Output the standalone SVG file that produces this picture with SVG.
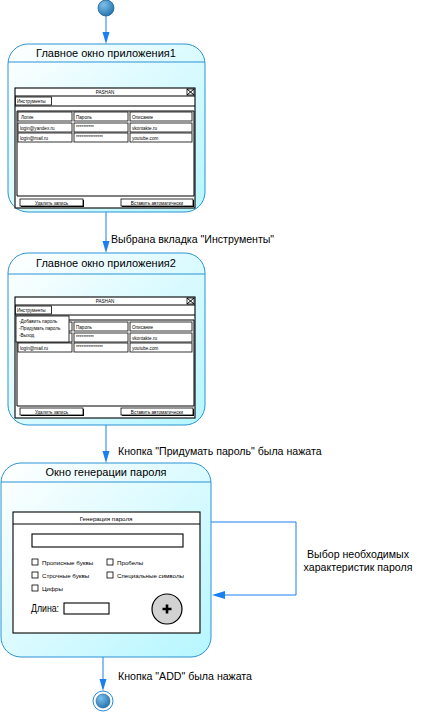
<svg xmlns="http://www.w3.org/2000/svg" width="421" height="714" viewBox="0 0 421 714">
<style>
.st{stroke:#2a93d5;stroke-width:1;fill:url(#sg)}
.hl{stroke:#2a93d5;stroke-width:1}
.ttl{font-family:"Liberation Sans",Arial,sans-serif;font-size:11px;fill:#000;text-anchor:middle}
.lbl{font-family:"Liberation Sans",Arial,sans-serif;font-size:10.6px;fill:#000}
.tiny{font-family:"Liberation Sans",Arial,sans-serif;font-size:4.6px;fill:#000}
.tm{text-anchor:middle}
.sm{font-family:"Liberation Sans",Arial,sans-serif;font-size:6.2px;fill:#000}
.w{fill:#fff;stroke:#000;stroke-width:1.1}
.c{fill:#fff;stroke:#000;stroke-width:0.8}
.ln{stroke:#000;stroke-width:1}
.cn{stroke:#1a7ff0;stroke-width:1;fill:none}
.ah{fill:#1a7ff0}
.btn{fill:#fff;stroke:#000;stroke-width:0.8}
.bsh{fill:#000}
</style>
<defs>
<linearGradient id="sg" x1="0" y1="0" x2="1" y2="1">
<stop offset="0" stop-color="#ffffff"/>
<stop offset="1" stop-color="#b6f6ff"/>
</linearGradient>
<radialGradient id="bg" cx="0.35" cy="0.3" r="0.8">
<stop offset="0" stop-color="#7cc0ea"/>
<stop offset="1" stop-color="#1f6faa"/>
</radialGradient>
</defs>

<g id="connectors">
<line class="cn" x1="106" y1="15" x2="106" y2="36"/>
<polygon class="ah" points="102.5,32 109.5,32 106,44"/>
<line class="cn" x1="106" y1="212" x2="106" y2="245"/>
<polygon class="ah" points="102.5,241 109.5,241 106,253"/>
<text class="lbl" x="111" y="243">Выбрана вкладка "Инструменты"</text>
<line class="cn" x1="106" y1="425" x2="106" y2="455"/>
<polygon class="ah" points="102.5,451 109.5,451 106,463"/>
<text class="lbl" x="118" y="455">Кнопка "Придумать пароль" была нажата</text>
<path class="cn" d="M211 522 H296 V595 H222"/>
<polygon class="ah" points="225,591 225,599 212,595"/>
<text class="lbl" x="358" y="558" text-anchor="middle">Выбор необходимых</text>
<text class="lbl" x="358" y="571" text-anchor="middle">характеристик пароля</text>
<line class="cn" x1="103" y1="657" x2="103" y2="683"/>
<polygon class="ah" points="99.5,679 106.5,679 103,691"/>
<text class="lbl" x="118" y="680">Кнопка "ADD" была нажата</text>
</g>

<g id="start">
<circle cx="106" cy="8" r="8" fill="url(#bg)" stroke="#1d5f95" stroke-width="0.8"/>
</g>

<g id="state1">
<rect class="st" x="8" y="44" width="197" height="168" rx="20"/>
<line class="hl" x1="8" y1="62" x2="205" y2="62"/>
<text class="ttl" x="106" y="57">Главное окно приложения1</text>
<rect class="w" x="15" y="88" width="180" height="120"/>
<line class="ln" x1="15" y1="96" x2="195" y2="96"/>
<text class="tiny tm" x="105" y="94">PASHAN</text>
<rect class="c" x="187" y="89" width="7" height="6"/>
<path class="ln" d="M187 89 L194 95 M194 89 L187 95" stroke-width="0.7"/>
<line class="ln" x1="15" y1="106" x2="195" y2="106"/>
<rect class="c" x="15.5" y="97" width="36" height="8"/>
<text class="tiny" x="17" y="103">Инструменты</text>
<path class="ln" d="M17 111 V196 H194 V111 Z" fill="none"/>
<rect class="c" x="18" y="112" width="54" height="9"/>
<rect class="c" x="74" y="112" width="54" height="9"/>
<rect class="c" x="130" y="112" width="62" height="9"/>
<rect class="c" x="18" y="123" width="54" height="9"/>
<rect class="c" x="74" y="123" width="54" height="9"/>
<rect class="c" x="130" y="123" width="62" height="9"/>
<rect class="c" x="18" y="133" width="54" height="9"/>
<rect class="c" x="74" y="133" width="54" height="9"/>
<rect class="c" x="130" y="133" width="62" height="9"/>
<text class="tiny" x="21" y="118.5">Логин</text>
<text class="tiny" x="76" y="118.5">Пароль</text>
<text class="tiny" x="132" y="118.5">Описание</text>
<text class="tiny" x="20" y="129.5">login@yandex.ru</text>
<text class="tiny" x="76" y="129">**********</text>
<text class="tiny" x="132" y="129.5">vkontakte.ru</text>
<text class="tiny" x="20" y="139.5">login@mail.ru</text>
<text class="tiny" x="76" y="139">***************</text>
<text class="tiny" x="132" y="139.5">youtube.com</text>
<rect class="bsh" x="21" y="200" width="63" height="7"/>
<rect class="btn" x="20" y="199" width="63" height="7"/>
<text class="tiny tm" x="51.5" y="204.5">Удалить запись</text>
<rect class="bsh" x="122" y="200" width="72" height="7"/>
<rect class="btn" x="121" y="199" width="72" height="7"/>
<text class="tiny tm" x="157" y="204.5">Вставить автоматически</text>
</g>

<g id="state2">
<rect class="st" x="8" y="253" width="197" height="172" rx="20"/>
<line class="hl" x1="8" y1="274" x2="205" y2="274"/>
<text class="ttl" x="106" y="267">Главное окно приложения2</text>
<rect class="w" x="15" y="297" width="180" height="121"/>
<line class="ln" x1="15" y1="305" x2="195" y2="305"/>
<text class="tiny tm" x="105" y="303">PASHAN</text>
<rect class="c" x="187" y="298" width="7" height="6"/>
<path class="ln" d="M187 298 L194 304 M194 298 L187 304" stroke-width="0.7"/>
<line class="ln" x1="15" y1="315" x2="195" y2="315"/>
<rect class="c" x="15.5" y="306" width="36" height="8"/>
<text class="tiny" x="17" y="312">Инструменты</text>
<path class="ln" d="M17 320 V406 H194 V320 Z" fill="none"/>
<rect class="c" x="18" y="322" width="54" height="9"/>
<rect class="c" x="74" y="322" width="54" height="9"/>
<rect class="c" x="130" y="322" width="62" height="9"/>
<rect class="c" x="18" y="333" width="54" height="9"/>
<rect class="c" x="74" y="333" width="54" height="9"/>
<rect class="c" x="130" y="333" width="62" height="9"/>
<rect class="c" x="18" y="343" width="54" height="9"/>
<rect class="c" x="74" y="343" width="54" height="9"/>
<rect class="c" x="130" y="343" width="62" height="9"/>
<text class="tiny" x="76" y="328.5">Пароль</text>
<text class="tiny" x="132" y="328.5">Описание</text>
<text class="tiny" x="76" y="339">**********</text>
<text class="tiny" x="132" y="339.5">vkontakte.ru</text>
<text class="tiny" x="20" y="349.5">login@mail.ru</text>
<text class="tiny" x="76" y="349">***************</text>
<text class="tiny" x="132" y="349.5">youtube.com</text>
<rect class="c" x="16" y="316" width="53" height="26"/>
<text class="tiny" x="19" y="323">-Добавить пароль</text>
<text class="tiny" x="19" y="330">-Придумать пароль</text>
<text class="tiny" x="19" y="337">-Выход</text>
<rect class="bsh" x="21" y="409" width="63" height="7"/>
<rect class="btn" x="20" y="408" width="63" height="7"/>
<text class="tiny tm" x="51.5" y="413.5">Удалить запись</text>
<rect class="bsh" x="122" y="409" width="72" height="7"/>
<rect class="btn" x="121" y="408" width="72" height="7"/>
<text class="tiny tm" x="157" y="413.5">Вставить автоматически</text>
</g>

<g id="state3">
<rect class="st" x="1" y="463" width="210" height="194" rx="20"/>
<line class="hl" x1="1" y1="482" x2="211" y2="482"/>
<text class="ttl" x="106" y="476">Окно генерации пароля</text>
<rect class="w" x="13" y="512" width="187" height="121"/>
<line class="ln" x1="13" y1="524" x2="200" y2="524"/>
<text class="sm tm" x="106" y="521" font-size="5.6">Генерация пароля</text>
<rect class="w" x="32" y="534" width="151" height="13"/>
<rect class="c" x="32" y="559" width="6" height="6"/>
<rect class="c" x="107" y="559" width="6" height="6"/>
<rect class="c" x="32" y="572" width="6" height="6"/>
<rect class="c" x="107" y="572" width="6" height="6"/>
<rect class="c" x="32" y="585" width="6" height="6"/>
<text class="sm" x="42" y="564.5">Прописные буквы</text>
<text class="sm" x="117" y="564.5">Пробелы</text>
<text class="sm" x="42" y="577.5">Строчные буквы</text>
<text class="sm" x="117" y="577.5">Специальные символы</text>
<text class="sm" x="42" y="590.5">Цифры</text>
<text class="lbl" x="31" y="611.5" font-size="8" textLength="28" lengthAdjust="spacingAndGlyphs">Длина:</text>
<rect class="w" x="64" y="603" width="45" height="11"/>
<circle cx="167" cy="609" r="15" fill="#d2d2d2" stroke="#000" stroke-width="1.2"/>
<path d="M162.5 609 H171.5 M167 604.5 V613.5" stroke="#000" stroke-width="2.6"/>
</g>

<g id="final">
<circle cx="103" cy="701" r="10" fill="#fff" stroke="#2a8ad5" stroke-width="1"/>
<circle cx="103" cy="701" r="7" fill="url(#bg)" stroke="#1d5f95" stroke-width="0.6"/>
</g>
</svg>
